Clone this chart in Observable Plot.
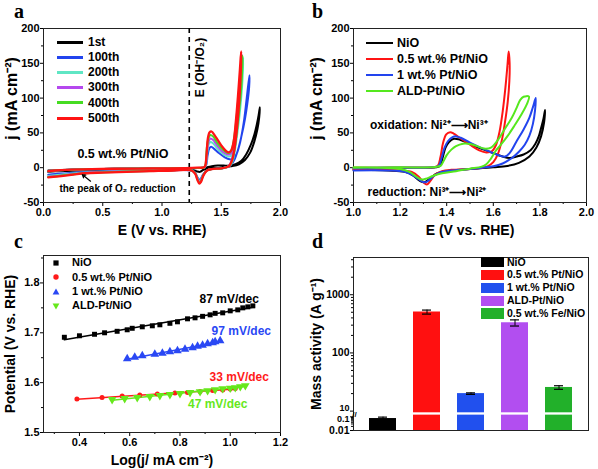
<!DOCTYPE html>
<html><head><meta charset="utf-8">
<script src="https://cdn.jsdelivr.net/npm/d3@7"></script>
<script src="https://cdn.jsdelivr.net/npm/@observablehq/plot@0.6"></script>
<style>
body{margin:0;background:#fff;}
#fig{position:relative;width:598px;height:469px;overflow:hidden;font-family:'Liberation Sans',Arial,Helvetica,sans-serif;font-weight:bold;color:#000;background:#fff;}
.lab{position:absolute;white-space:nowrap;line-height:1;}
.letter{position:absolute;font-family:'Liberation Serif','Times New Roman',serif;font-weight:bold;font-size:20px;line-height:20px;}
</style></head><body><div id="fig"></div>
<script>
// ---------------- Panel a: CV cycles of 0.5 wt.% Pt/NiO ----------------
const aNames = ["1st","100th","200th","300th","400th","500th"];
const aColors = ["#000000","#2244ee","#5fe6c4","#b548ee","#46dc22","#ff1414"];
const a_1st = [[0.04,-4],[0.1,-3.5],[0.3,-2.5],[0.6,-1.5],[1.0,-1],[1.3,-0.5],[1.38,0.5],[1.42,2],[1.47,3],[1.52,3],[1.57,3],[1.62,5],[1.67,10],[1.71,19],[1.75,33],[1.78,48],[1.80,62],[1.815,75],[1.826,87],[1.82,72],[1.805,55],[1.78,38],[1.745,22],[1.70,11],[1.65,5],[1.58,2],[1.50,0],[1.40,-1],[1.35,-3],[1.32,-6],[1.29,-5],[1.25,-3],[1.0,-3],[0.6,-3],[0.3,-4],[0.1,-5],[0.04,-6]];
const a_100th = [[0.04,-5],[0.1,-4],[0.3,-2.5],[0.6,-1.5],[1.0,-1],[1.3,-0.5],[1.36,0.5],[1.375,5],[1.385,18],[1.40,28],[1.415,30],[1.44,27],[1.48,21],[1.53,15],[1.57,12],[1.60,12.5],[1.63,20],[1.66,37],[1.69,65],[1.715,100],[1.738,133],[1.735,115],[1.72,92],[1.70,70],[1.67,45],[1.64,25],[1.61,11],[1.58,4],[1.55,1],[1.50,-1],[1.42,-2],[1.38,-4],[1.35,-9],[1.33,-15],[1.32,-18],[1.30,-14],[1.28,-7],[1.25,-4],[1.0,-4],[0.6,-5],[0.35,-6],[0.2,-8],[0.1,-9],[0.04,-10]];
const a_200th = [[0.04,-5],[0.1,-4],[0.3,-2.5],[0.6,-1.5],[1.0,-1],[1.3,-0.5],[1.36,0.5],[1.372,5],[1.382,22],[1.395,34],[1.41,37],[1.43,35],[1.47,27],[1.52,19],[1.56,16],[1.585,17],[1.61,28],[1.635,55],[1.655,90],[1.672,125],[1.685,158],[1.683,140],[1.675,115],[1.66,85],[1.64,55],[1.62,30],[1.60,12],[1.58,4],[1.55,1],[1.50,-1],[1.42,-2],[1.38,-4],[1.35,-10],[1.33,-17],[1.318,-20],[1.30,-15],[1.28,-8],[1.25,-4],[1.0,-4],[0.6,-5],[0.35,-7],[0.2,-9],[0.1,-11],[0.04,-12]];
const a_300th = [[0.04,-5],[0.1,-4],[0.3,-2.5],[0.6,-1.5],[1.0,-1],[1.3,-0.5],[1.36,0.5],[1.37,5],[1.38,25],[1.395,38],[1.41,42],[1.43,40],[1.47,31],[1.52,22],[1.555,19],[1.58,20],[1.60,28],[1.625,55],[1.645,90],[1.662,128],[1.675,162],[1.673,145],[1.665,118],[1.65,88],[1.63,57],[1.61,30],[1.59,12],[1.57,4],[1.55,1],[1.50,-1],[1.42,-2],[1.38,-4],[1.35,-10],[1.33,-18],[1.318,-21],[1.30,-16],[1.28,-8],[1.25,-4],[1.0,-4.5],[0.6,-5.5],[0.35,-7.5],[0.2,-10],[0.1,-12],[0.04,-13]];
const a_400th = [[0.04,-5],[0.1,-4],[0.3,-2.5],[0.6,-1.5],[1.0,-1],[1.3,-0.5],[1.358,0.5],[1.368,5],[1.378,28],[1.392,42],[1.408,47],[1.43,45],[1.47,35],[1.52,25],[1.55,21.5],[1.575,22],[1.595,30],[1.62,58],[1.64,92],[1.66,130],[1.68,161],[1.678,145],[1.67,118],[1.655,88],[1.635,57],[1.615,30],[1.595,12],[1.575,4],[1.55,1],[1.50,-1],[1.42,-2],[1.38,-4],[1.35,-10],[1.33,-19],[1.316,-22],[1.30,-17],[1.28,-8],[1.25,-4],[1.0,-4.5],[0.6,-6],[0.35,-8],[0.2,-10.5],[0.1,-12.5],[0.04,-13.5]];
const a_500th = [[0.04,-5],[0.1,-4],[0.2,-3],[0.4,-2],[0.6,-1.5],[0.8,-1.2],[1.0,-1],[1.2,-0.5],[1.3,0],[1.355,0.5],[1.365,3],[1.375,17],[1.387,42],[1.402,51],[1.418,52],[1.45,45],[1.50,32],[1.54,24],[1.565,22],[1.585,25],[1.605,38],[1.625,70],[1.642,105],[1.657,140],[1.668,167],[1.667,150],[1.66,120],[1.647,85],[1.63,52],[1.61,25],[1.59,10],[1.57,3],[1.55,1],[1.50,-1],[1.42,-2],[1.38,-4],[1.35,-11],[1.33,-20],[1.315,-23],[1.30,-18],[1.28,-9],[1.25,-4],[1.1,-4],[0.9,-5],[0.7,-6],[0.5,-7],[0.35,-8],[0.25,-10],[0.15,-12],[0.04,-14]];
const aXTicks = [0,0.5,1,1.5,2], aXMinor = [0.25,0.75,1.25,1.75];
const aYTicks = [-50,0,50,100,150,200], aYMinor = [-25,25,75,125,175];
const aRefPotential = 1.23;
const aTexts = {ref:"E (OH⁻/O₂)", sample:"0.5 wt.% Pt/NiO", o2:"the peak of O₂ reduction", xTitle:"E (V vs. RHE)", yTitle:"j (mA cm⁻²)"};
const aRefPos = [1.325,144], aSamplePos = [0.67,20], aO2Pos = [0.624,-30];
const aO2Arrow = [0.397,-19.4,0.327,-9.8];

// ---------------- Panel b: CV comparison ----------------
const bNames = ["NiO","0.5 wt.% Pt/NiO","1 wt.% Pt/NiO","ALD-Pt/NiO"];
const bColors = ["#000000","#ff1414","#2244ee","#55e81e"];
const b_NiO = [[1.00,-0.5],[1.10,-0.3],[1.20,0],[1.30,0],[1.355,0.5],[1.372,3],[1.383,15],[1.395,29],[1.41,37],[1.43,41.5],[1.45,41],[1.50,34],[1.55,27],[1.60,21],[1.64,16],[1.67,14],[1.70,16],[1.73,19],[1.76,25],[1.78,34],[1.795,45],[1.805,57],[1.815,70],[1.822,83],[1.818,65],[1.805,45],[1.785,29],[1.755,16],[1.71,7],[1.66,2.5],[1.60,0.5],[1.50,-2],[1.42,-4],[1.36,-8],[1.33,-15],[1.305,-21],[1.285,-19],[1.255,-11],[1.22,-6],[1.15,-4],[1.00,-3]];
const b_05Pt = [[1.00,0],[1.20,0],[1.34,0.5],[1.362,3],[1.373,15],[1.384,35],[1.398,48],[1.415,51],[1.43,49],[1.46,42],[1.50,33],[1.54,25],[1.57,22],[1.595,24],[1.612,33],[1.627,52],[1.64,80],[1.652,115],[1.661,148],[1.666,167],[1.67,150],[1.669,125],[1.662,95],[1.65,65],[1.637,40],[1.62,20],[1.60,8],[1.575,2],[1.55,0],[1.50,-2],[1.42,-3],[1.38,-5],[1.35,-10],[1.33,-19],[1.315,-24],[1.30,-21],[1.28,-13],[1.25,-6],[1.20,-4],[1.10,-3],[1.00,-3]];
const b_1Pt = [[1.00,-0.5],[1.20,0],[1.34,0.5],[1.366,3],[1.378,14],[1.39,28],[1.405,38],[1.425,44],[1.44,45],[1.46,43],[1.50,36],[1.55,28],[1.60,21],[1.63,17],[1.65,16],[1.67,21],[1.70,38],[1.73,55],[1.755,72],[1.77,87],[1.782,100],[1.779,82],[1.77,63],[1.755,46],[1.735,33],[1.71,23],[1.68,14],[1.64,6],[1.60,2],[1.55,0],[1.50,-2],[1.42,-4],[1.37,-7],[1.34,-13],[1.31,-21],[1.29,-19],[1.26,-12],[1.22,-6],[1.15,-4],[1.00,-4]];
const b_ALD = [[1.00,0.5],[1.20,0.5],[1.35,1],[1.375,3],[1.387,10],[1.40,18],[1.42,26],[1.44,31],[1.47,34.5],[1.50,34],[1.53,31],[1.56,27.5],[1.59,29],[1.62,40],[1.65,56],[1.68,72],[1.70,86],[1.715,97],[1.73,102],[1.753,102],[1.745,92],[1.72,76],[1.69,60],[1.66,45],[1.63,32],[1.61,24],[1.59,13],[1.57,5],[1.55,1.5],[1.50,-1.5],[1.44,-5],[1.38,-8],[1.34,-12],[1.31,-16],[1.29,-17],[1.27,-13],[1.24,-6],[1.20,-2],[1.10,0],[1.00,0]];
const bXTicks = [1.0,1.2,1.4,1.6,1.8,2.0], bXMinor = [1.1,1.3,1.5,1.7,1.9];
const bYTicks = aYTicks, bYMinor = aYMinor;
const bTexts = {ox:"oxidation: Ni²⁺⟶Ni³⁺", red:"reduction: Ni³⁺⟶Ni²⁺", xTitle:"E (V vs. RHE)", yTitle:"j (mA cm⁻²)"};
const bOxPos = [1.071,60.6], bRedPos = [1.06,-35];

// ---------------- Panel c: Tafel plots ----------------
const cNames = ["NiO","0.5 wt.% Pt/NiO","1 wt.% Pt/NiO","ALD-Pt/NiO"];
const cColors = ["#000000","#ff1a1a","#2a48f4","#66e81c"];
const c_NiO = [[0.34,1.691],[0.40,1.694],[0.46,1.697],[0.50,1.700],[0.55,1.703],[0.59,1.706],[0.61,1.709],[0.65,1.712],[0.69,1.714],[0.72,1.716],[0.76,1.719],[0.79,1.722],[0.83,1.728],[0.86,1.730],[0.89,1.733],[0.92,1.736],[0.94,1.739],[0.97,1.740],[1.00,1.744],[1.03,1.746],[1.05,1.750],[1.07,1.752],[1.09,1.754]];
const c_05Pt = [[0.39,1.567],[0.49,1.570],[0.57,1.573],[0.64,1.575],[0.71,1.577],[0.78,1.579],[0.83,1.580],[0.88,1.582],[0.93,1.584],[0.97,1.585],[1.00,1.587],[1.02,1.588]];
const c_1Pt = [[0.59,1.648],[0.62,1.651],[0.65,1.654],[0.70,1.657],[0.73,1.659],[0.76,1.662],[0.79,1.664],[0.82,1.667],[0.85,1.670],[0.87,1.673],[0.89,1.675],[0.91,1.678],[0.93,1.680],[0.94,1.682],[0.96,1.684]];
const c_ALD = [[0.53,1.566],[0.58,1.568],[0.63,1.570],[0.68,1.572],[0.72,1.574],[0.76,1.576],[0.80,1.578],[0.84,1.580],[0.88,1.582],[0.91,1.584],[0.94,1.586],[0.97,1.588],[1.00,1.589],[1.02,1.590],[1.04,1.592],[1.06,1.594]];
const cSlopes = ["87 mV/dec","33 mV/dec","97 mV/dec","47 mV/dec"];
const cSlopePos = [[0.996,1.768],[1.036,1.610],[1.044,1.704],[0.95,1.556]];
const cXTicks = [0.4,0.6,0.8,1.0,1.2], cXMinor = [0.3,0.5,0.7,0.9,1.1];
const cYTicks = [1.5,1.6,1.7,1.8], cYMinor = [1.55,1.65,1.75,1.85];
const cTexts = {xTitle:"Log(j/ mA cm⁻²)", yTitle:"Potential (V vs. RHE)"};

// ---------------- Panel d: mass activity ----------------
const dCategories = ["NiO","0.5 wt.% Pt/NiO","1 wt.% Pt/NiO","ALD-Pt/NiO","0.5 wt.% Fe/NiO"];
const dColors = ["#000000","#ff1010","#2150ee","#b24ef0","#22b02a"];
const dMass = [0.075, 505, 20, 330, 25.5];
const dError = [0.02, 40, 0.6, 40, 1.8];
const dTickValues = [0.01, 0.1, 10, 100, 1000];
const dTickLabels = ["0.01","0.1","10","100","1000"];
const dTexts = {yTitle:"Mass activity (A g⁻¹)"};

// ============ drawing ============
const fig = document.getElementById("fig");
const FONT = "'Liberation Sans', Arial, Helvetica, sans-serif";
const baseStyle = {fontFamily: FONT, fontSize: "11px", fontWeight: "bold", background: "transparent", color: "#000", overflow: "visible"};
function place(el, left, top){ el.style.position = "absolute"; el.style.left = left + "px"; el.style.top = top + "px"; fig.appendChild(el); }
function axes(xMajor, xMinor, xFmt, yMajor, yMinor, yFmt, fs = 11){
  return [
    Plot.axisX(xMajor, {anchor:"bottom", tickSize:4, tickPadding:2, tickFormat:xFmt, label:null, fontSize:fs}),
    Plot.axisX(xMinor, {anchor:"bottom", tickSize:2, tickFormat:()=>"", fill:"none", label:null}),
    Plot.axisY(yMajor, {anchor:"left", tickSize:3, tickPadding:1, tickFormat:yFmt, label:null, fontSize:fs}),
    Plot.axisY(yMinor, {anchor:"left", tickSize:2, tickFormat:()=>"", fill:"none", label:null}),
    Plot.frame({stroke:"#222", strokeWidth:1})
  ];
}
const fx1 = d => d.toFixed(1), fint = d => String(d);
const X = d => d[0], Y = d => d[1];

// Panel a
const aSeries = [a_1st, a_100th, a_200th, a_300th, a_400th, a_500th];
const svgA = Plot.plot({
  width:298, height:240, marginLeft:43, marginRight:18, marginTop:28, marginBottom:38,
  style: baseStyle, x:{domain:[0,2]}, y:{domain:[-50,200]},
  marks:[
    ...axes(aXTicks, aXMinor, fx1, aYTicks, aYMinor, fint),
    Plot.ruleX([aRefPotential], {stroke:"#000", strokeWidth:1.6, strokeDasharray:"5,4"}),
    ...aSeries.map((s,i) => Plot.line(s, {x:X, y:Y, stroke:aColors[i], strokeWidth: i===5 ? 2.3 : 2, curve:"catmull-rom"})),
    Plot.text([aTexts.ref], {x:aRefPos[0], y:aRefPos[1], rotate:-90, fontSize:12}),
    Plot.text([aTexts.sample], {x:aSamplePos[0], y:aSamplePos[1], fontSize:12.5}),
    Plot.text([aTexts.o2], {x:aO2Pos[0], y:aO2Pos[1], fontSize:10}),
    Plot.arrow([aO2Arrow], {x1:d=>d[0], y1:d=>d[1], x2:d=>d[2], y2:d=>d[3], headLength:5, strokeWidth:1.2, stroke:"#000"}),
    Plot.text([aTexts.yTitle], {frameAnchor:"left", textAnchor:"middle", dx:-32, dy:-17, rotate:-90, fontSize:16}),
    Plot.text([aTexts.xTitle], {frameAnchor:"bottom", textAnchor:"middle", lineAnchor:"middle", dy:28, fontSize:14})
  ]
});
place(svgA, 0, 0);

// Panel b
const bSeries = [b_NiO, b_05Pt, b_1Pt, b_ALD];
const svgB = Plot.plot({
  width:300, height:240, marginLeft:55, marginRight:12, marginTop:28, marginBottom:38,
  style: baseStyle, x:{domain:[1,2]}, y:{domain:[-50,200]},
  marks:[
    ...axes(bXTicks, bXMinor, fx1, bYTicks, bYMinor, fint),
    ...bSeries.map((s,i) => Plot.line(s, {x:X, y:Y, stroke:bColors[i], strokeWidth:2, curve:"catmull-rom"})),
    Plot.text([bTexts.ox], {x:bOxPos[0], y:bOxPos[1], textAnchor:"start", fontSize:12}),
    Plot.text([bTexts.red], {x:bRedPos[0], y:bRedPos[1], textAnchor:"start", fontSize:12}),
    Plot.text([bTexts.yTitle], {frameAnchor:"left", textAnchor:"middle", dx:-37, dy:-17, rotate:-90, fontSize:16}),
    Plot.text([bTexts.xTitle], {frameAnchor:"bottom", textAnchor:"middle", lineAnchor:"middle", dy:28, fontSize:14})
  ]
});
place(svgB, 298, 0);

// Panel c
const triDown = {draw(ctx, size){ const y = Math.sqrt(size / (Math.sqrt(3) * 3)); ctx.moveTo(0, 2*y); ctx.lineTo(-Math.sqrt(3)*y, -y); ctx.lineTo(Math.sqrt(3)*y, -y); ctx.closePath(); }};
const cSeries = [c_NiO, c_05Pt, c_1Pt, c_ALD];
const cSymbols = ["square","circle","triangle",triDown];
const cR = [2.8, 2.5, 3.2, 3.2];
const cSlopeColors = [cColors[0], cColors[1], cColors[2], cColors[3]];
const svgC = Plot.plot({
  width:298, height:239, marginLeft:43, marginRight:18, marginTop:25, marginBottom:37,
  style: baseStyle, x:{domain:[0.257,1.2]}, y:{domain:[1.5,1.855]},
  color:{type:"identity"},
  marks:[
    ...axes(cXTicks, cXMinor, fx1, cYTicks, cYMinor, fx1),
    ...cSeries.map((s,i) => Plot.linearRegressionY(s, {x:X, y:Y, stroke:cColors[i], strokeWidth:1.5, ci:0})),
    ...cSeries.map((s,i) => Plot.dot(s, {x:X, y:Y, symbol:cSymbols[i], r:cR[i], fill:cColors[i], stroke:"none"})),
    Plot.text(cSlopes, {x:(d,i)=>cSlopePos[i][0], y:(d,i)=>cSlopePos[i][1], fill:(d,i)=>cSlopeColors[i], fontSize:12}),
    Plot.text([cTexts.yTitle], {frameAnchor:"left", textAnchor:"middle", dx:-33, rotate:-90, fontSize:14}),
    Plot.text([cTexts.xTitle], {frameAnchor:"bottom", textAnchor:"middle", lineAnchor:"middle", dy:28, fontSize:14})
  ]
});
place(svgC, 0, 230);

// Panel d (broken log axis: 0.01–0.1 compressed, 10–5000 log)
const U_LOW_PER_DEC = 0.235, U_AT_01 = 0.902, U_LOW_TOP = 0.931, U_HIGH_BOTTOM = 0.971;
const uMap = v => v >= 10 ? Math.log10(v) : U_AT_01 + (Math.log10(v) + 1) * U_LOW_PER_DEC;
const U_MIN = uMap(0.01);
const dRows = dCategories.map((c,i) => ({cat:c, v:dMass[i], e:dError[i], i}));
const dMinor = [];
for (const dec of [10,100,1000]) for (let k=2;k<=9;k++) if (dec*k < 4300) dMinor.push(Math.log10(dec*k));
for (let k=2;k<=9;k++) dMinor.push(uMap(0.01*k));
const dTickU = dTickValues.map(uMap);
const dLabelNudge = [0, 2.2, -3, 0, 0];
const dLabelSize = [10.5, 9, 9, 10.5, 10.5];
const svgD = Plot.plot({
  width:300, height:239, marginLeft:55, marginRight:10, marginTop:27, marginBottom:39,
  style: baseStyle,
  x:{type:"band", domain:dCategories, paddingInner:0.386, paddingOuter:0.363, axis:null},
  y:{domain:[U_MIN, 3.64], axis:null},
  color:{type:"identity"},
  marks:[
    Plot.rectY(dRows, {x:"cat", y1:U_MIN, y2:d => d.v > 10 ? U_LOW_TOP : uMap(d.v), fill:d => dColors[d.i]}),
    Plot.rectY(dRows.filter(d => d.v > 10), {x:"cat", y1:U_HIGH_BOTTOM, y2:d => uMap(d.v), fill:d => dColors[d.i]}),
    Plot.ruleX(dRows, {x:"cat", y1:d => uMap(d.v - d.e), y2:d => uMap(d.v + d.e), stroke:"#000", strokeWidth:1}),
    Plot.tickY(dRows, {x:"cat", y:d => uMap(d.v + d.e), insetLeft:9, insetRight:9, stroke:"#000", strokeWidth:1.2}),
    Plot.tickY(dRows, {x:"cat", y:d => uMap(d.v - d.e), insetLeft:9, insetRight:9, stroke:"#000", strokeWidth:1.2}),
    Plot.axisY(dTickU, {anchor:"left", tickSize:3, tickFormat:()=>"", fill:"none", label:null}),
    Plot.axisY(dMinor, {anchor:"left", tickSize:2, tickFormat:()=>"", fill:"none", label:null}),
    ...dTickLabels.map((t,i) => Plot.text([t], {frameAnchor:"left", y:dTickU[i], textAnchor:"end", dx:-4, dy:dLabelNudge[i], fontSize:dLabelSize[i]})),
    Plot.frame({stroke:"#222", strokeWidth:1}),
    Plot.text(["//"], {frameAnchor:"left", textAnchor:"middle", y:(U_LOW_TOP+U_HIGH_BOTTOM)/2, fontSize:8, dx:1}),
    Plot.text([dTexts.yTitle], {frameAnchor:"left", textAnchor:"middle", dx:-37, rotate:-90, fontSize:14})
  ]
});
place(svgD, 298, 230);

// ---------- HTML legends and panel letters ----------
function addDiv(html, css, cls){ const d = document.createElement("div"); if (cls) d.className = cls; d.innerHTML = html; d.style.cssText += css; fig.appendChild(d); return d; }
function lineLegend(names, colors, x0, x1, xt, y0, dy, fs, lw){
  names.forEach((n,i) => {
    const y = y0 + i*dy;
    addDiv("", `position:absolute;left:${x0}px;top:${y-lw/2}px;width:${x1-x0}px;height:${lw}px;background:${colors[i]};`);
    addDiv(n, `left:${xt}px;top:${y-fs*0.52}px;font-size:${fs}px;`, "lab");
  });
}
lineLegend(aNames, aColors, 57, 83, 88, 42, 15.2, 12, 3);
lineLegend(bNames, bColors, 366, 393, 397, 43, 16, 12.5, 2.6);
// c legend (markers)
const cShapes = [
  `<rect x="-2.6" y="-2.6" width="5.2" height="5.2" fill="${cColors[0]}"/>`,
  `<circle r="2.7" fill="${cColors[1]}"/>`,
  `<polygon points="0,-3.4 3.4,2.4 -3.4,2.4" fill="${cColors[2]}"/>`,
  `<polygon points="0,3.4 3.4,-2.4 -3.4,-2.4" fill="${cColors[3]}"/>`
];
cNames.forEach((n,i) => {
  const y = 263 + i*14.4;
  addDiv(`<svg width="10" height="10" viewBox="-5 -5 10 10">${cShapes[i]}</svg>`, `position:absolute;left:51px;top:${y-5}px;width:10px;height:10px;line-height:0;`);
  addDiv(n, `left:72px;top:${y-5.8}px;font-size:11px;`, "lab");
});
// d legend (swatches)
dCategories.forEach((n,i) => {
  const y = 262 + i*12.9;
  addDiv("", `position:absolute;left:481px;top:${y-5.2}px;width:23px;height:10.4px;background:${dColors[i]};`);
  addDiv(n, `left:507px;top:${y-5.5}px;font-size:10.5px;`, "lab");
});
// panel letters
const letters = [["a",14,1.2],["b",312,1.2],["c",14,231],["d",312,231]];
letters.forEach(([t,x,y]) => addDiv(t, `left:${x}px;top:${y}px;`, "letter"));
</script></body></html>
